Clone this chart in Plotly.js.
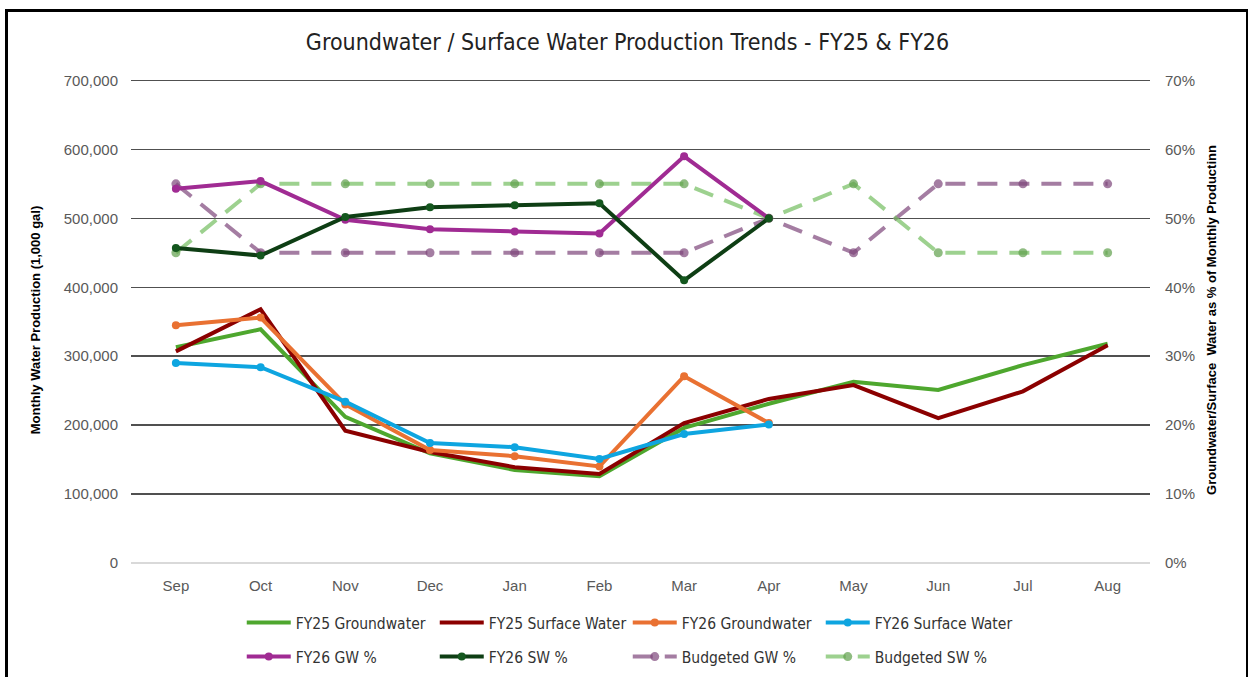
<!DOCTYPE html>
<html>
<head>
<meta charset="utf-8">
<script src="https://cdn.plot.ly/plotly-3.0.1.min.js"></script>
<style>
  html, body { margin: 0; padding: 0; background: #fff; overflow: hidden; }
  #chart { width: 1250px; height: 677px; }
  #frame { position: absolute; left: 5px; top: 9px; width: 1238px; height: 720px;
           border-left: 3px solid #000; border-top: 3px solid #000; border-right: 2px solid #000;
           pointer-events: none; }
</style>
</head>
<body>
<div id="chart"></div>
<div id="frame"></div>
<script>
const months = ['Sep','Oct','Nov','Dec','Jan','Feb','Mar','Apr','May','Jun','Jul','Aug'];
const fy26Months = ['Sep','Oct','Nov','Dec','Jan','Feb','Mar','Apr'];

const fy25Groundwater = [313000, 339000, 212000, 159000, 135000, 126000, 196000, 231000, 263000, 251000, 287000, 318000];
const fy25SurfaceWater = [307000, 368000, 192000, 161000, 139000, 129000, 203000, 238000, 258000, 210000, 249000, 316000];
const fy26Groundwater = [345000, 356000, 230000, 164000, 155000, 140000, 271000, 203000];
const fy26SurfaceWater = [290000, 284000, 234000, 174000, 168000, 151000, 187000, 201000];

const fy26GWPct = [0.543, 0.554, 0.498, 0.484, 0.481, 0.478, 0.590, 0.500];
const fy26SWPct = [0.457, 0.446, 0.502, 0.516, 0.519, 0.522, 0.410, 0.500];
const budgetedGWPct = [0.55, 0.45, 0.45, 0.45, 0.45, 0.45, 0.45, 0.50, 0.45, 0.55, 0.55, 0.55];
const budgetedSWPct = [0.45, 0.55, 0.55, 0.55, 0.55, 0.55, 0.55, 0.50, 0.55, 0.45, 0.45, 0.45];

const narrowFamily = 'Liberation Sans Narrow, DejaVu Sans Condensed, Arial Narrow, sans-serif';
const legendFont = {family: narrowFamily, size: 15.5, color: '#333'};
const dashPat = '20px,12px';

const traces = [
  {x: months, y: fy25Groundwater, name: 'FY25 Groundwater', type: 'scatter', mode: 'lines',
   line: {color: '#4ea72e', width: 4}, legend: 'legend'},
  {x: months, y: fy25SurfaceWater, name: 'FY25 Surface Water', type: 'scatter', mode: 'lines',
   line: {color: '#8b0000', width: 4}, legend: 'legend'},
  {x: fy26Months, y: fy26Groundwater, name: 'FY26 Groundwater', type: 'scatter', mode: 'lines+markers',
   line: {color: '#e97132', width: 4}, marker: {color: '#e97132', size: 8}, legend: 'legend'},
  {x: fy26Months, y: fy26SurfaceWater, name: 'FY26 Surface Water', type: 'scatter', mode: 'lines+markers',
   line: {color: '#0ea5e0', width: 4}, marker: {color: '#0ea5e0', size: 8}, legend: 'legend'},
  {x: months, y: budgetedGWPct, name: 'Budgeted GW %', type: 'scatter', mode: 'lines+markers', yaxis: 'y2',
   line: {color: 'rgba(125,70,122,0.7)', width: 4, dash: dashPat}, marker: {color: 'rgba(125,70,122,0.7)', size: 9}, legend: 'legend2'},
  {x: months, y: budgetedSWPct, name: 'Budgeted SW %', type: 'scatter', mode: 'lines+markers', yaxis: 'y2',
   line: {color: 'rgba(115,190,95,0.7)', width: 4, dash: dashPat}, marker: {color: 'rgba(95,160,75,0.7)', size: 9}, legend: 'legend2'},
  {x: fy26Months, y: fy26GWPct, name: 'FY26 GW %', type: 'scatter', mode: 'lines+markers', yaxis: 'y2',
   line: {color: '#a02b93', width: 4}, marker: {color: '#a02b93', size: 8}, legend: 'legend2'},
  {x: fy26Months, y: fy26SWPct, name: 'FY26 SW %', type: 'scatter', mode: 'lines+markers', yaxis: 'y2',
   line: {color: '#0e3e14', width: 4}, marker: {color: '#14571e', size: 8}, legend: 'legend2'}
];

const tickFont = {family: 'Liberation Sans, Arial, sans-serif', size: 15, color: '#595959'};

const layout = {
  width: 1250, height: 677,
  paper_bgcolor: '#fff', plot_bgcolor: '#fff',
  margin: {l: 131, r: 100, t: 77, b: 114},
  showlegend: true,
  title: {text: 'Groundwater / Surface Water Production Trends - FY25 &amp; FY26',
          font: {family: narrowFamily, size: 23, color: '#222'},
          x: 0.502, xanchor: 'center', y: 0.938, yanchor: 'middle'},
  xaxis: {type: 'category', categoryorder: 'array', categoryarray: months,
          range: [-0.53, 11.5], showgrid: false, zeroline: false, showline: false, ticks: '',
          tickfont: tickFont, ticklabelstandoff: 12},
  yaxis: {range: [0, 705000], tickvals: [0, 100000, 200000, 300000, 400000, 500000, 600000, 700000],
          tickformat: ',', showgrid: true,
          gridcolor: '#505050', gridwidth: 1.5, zeroline: true, zerolinecolor: '#d9d9d9', zerolinewidth: 1.5,
          showline: false, ticks: '', tickfont: tickFont, ticklabelstandoff: 12,
          title: {text: 'Monthly Water Production (1,000 gal)', standoff: 20,
                  font: {family: 'Liberation Sans, Arial, sans-serif', size: 13, color: '#000', weight: 'bold'}}},
  yaxis2: {overlaying: 'y', side: 'right', range: [0, 0.705], tickvals: [0, 0.1, 0.2, 0.3, 0.4, 0.5, 0.6, 0.7],
           tickformat: '.0%',
           showgrid: false, zeroline: false, showline: false, ticks: '', tickfont: tickFont, ticklabelstandoff: 14,
           title: {text: 'Groundwater/Surface\u00a0\u00a0Water as % of Monthly Productinn', standoff: 12,
                   font: {family: 'Liberation Sans, Arial, sans-serif', size: 13, color: '#000', weight: 'bold'}}},
  legend: {orientation: 'h', xref: 'container', yref: 'container', x: 0.1934, xanchor: 'left', y: 0.0798, yanchor: 'middle',
           entrywidth: 134, entrywidthmode: 'pixels', itemwidth: 44, font: legendFont,
           bgcolor: 'rgba(0,0,0,0)', traceorder: 'normal'},
  legend2: {orientation: 'h', xref: 'container', yref: 'container', x: 0.1934, xanchor: 'left', y: 0.0295, yanchor: 'middle',
           entrywidth: 134, entrywidthmode: 'pixels', itemwidth: 44, font: legendFont,
           bgcolor: 'rgba(0,0,0,0)', traceorder: 'normal'}
};

// Order the second legend to match the reference: FY26 GW %, FY26 SW %, Budgeted GW %, Budgeted SW %
traces[6].legendrank = 1; traces[7].legendrank = 2; traces[4].legendrank = 3; traces[5].legendrank = 4;

Plotly.newPlot('chart', traces, layout, {displayModeBar: false, staticPlot: true});
</script>
</body>
</html>
